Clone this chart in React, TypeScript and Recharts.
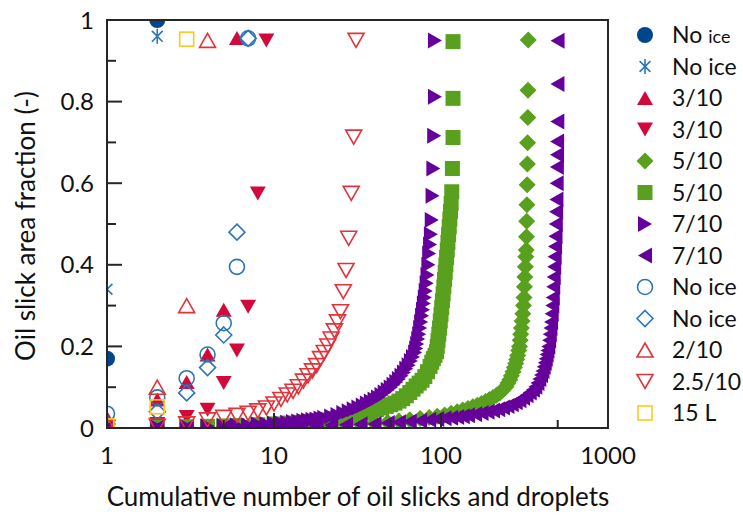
import React from "react";
import { ScatterChart, Scatter, XAxis, YAxis } from "recharts";

// Oil slick area fraction vs. cumulative number of slicks/droplets (log x)

type Pt = [number, number];

const xTicks = [1, 5, 10, 50, 100, 500, 1000];
const xTickLabels = [1, 10, 100, 1000];
const yTicks = [0, 0.1, 0.2, 0.3, 0.4, 0.5, 0.6, 0.7, 0.8, 0.9, 1];
const yTickLabels = ["0", "0.2", "0.4", "0.6", "0.8", "1"];

const noIceDots: Pt[] = [[1, 0.17], [2, 1.0]];
const noIceStars: Pt[] = [[1, 0.34], [2, 0.96]];
const ice3Up: Pt[] = [[1, 0.025], [2, 0.07], [3, 0.113], [4, 0.18], [5, 0.29], [6, 0.956]];
const ice3Down: Pt[] = [
  [1, 0.005], [2, 0.01], [3, 0.027], [4, 0.045], [5, 0.11], [6, 0.19], [7, 0.297], [8, 0.575], [9, 0.95],
];
const ice5Diamonds: Pt[] = [
  [1, 0.0005], [2, 0.001], [3, 0.0015], [5, 0.002], [7, 0.003], [10, 0.004], [14, 0.005], [18, 0.006],
  [22, 0.007], [27, 0.008], [33, 0.01], [40, 0.012], [48, 0.014], [56, 0.017], [65, 0.02], [75, 0.023],
  [85, 0.026], [95, 0.029], [105, 0.032], [115, 0.036], [125, 0.04], [135, 0.044], [145, 0.048],
  [155, 0.052], [165, 0.056], [175, 0.06], [185, 0.065], [195, 0.07], [205, 0.075], [215, 0.08],
  [225, 0.086], [235, 0.093], [245, 0.101], [252, 0.11], [258, 0.118], [264, 0.128], [270, 0.138],
  [275, 0.148], [280, 0.158], [284, 0.168], [288, 0.178], [292, 0.19], [295, 0.2], [298, 0.215],
  [300, 0.23], [303, 0.245], [306, 0.262], [309, 0.28], [312, 0.3], [314, 0.32], [316, 0.346],
  [318, 0.37], [320, 0.395], [322, 0.42], [324, 0.436], [325, 0.469], [326, 0.507], [327, 0.547],
  [328, 0.596], [329, 0.647], [330, 0.699], [331, 0.761], [332, 0.828], [333, 0.951],
];
const ice5Squares: Pt[] = [
  [1, 0.001], [2, 0.002], [3, 0.003], [4, 0.004], [5, 0.005], [6, 0.006], [8, 0.008], [10, 0.01],
  [12, 0.012], [14, 0.014], [16, 0.016], [18, 0.018], [20, 0.02], [23, 0.023], [26, 0.026], [29, 0.029],
  [32, 0.033], [35, 0.037], [38, 0.041], [41, 0.045], [44, 0.049], [47, 0.053], [50, 0.057], [53, 0.061],
  [56, 0.066], [59, 0.072], [62, 0.079], [65, 0.087], [68, 0.095], [71, 0.103], [74, 0.11], [77, 0.117],
  [80, 0.126], [83, 0.138], [86, 0.151], [88, 0.161], [90, 0.17], [92, 0.178], [94, 0.187], [95, 0.2],
  [96, 0.215], [97, 0.23], [98, 0.245], [99, 0.262], [100, 0.278], [101, 0.295], [102, 0.312],
  [103, 0.329], [104, 0.346], [105, 0.364], [106, 0.382], [107, 0.4], [108, 0.418], [109, 0.436],
  [110, 0.455], [111, 0.474], [112, 0.493], [113, 0.512], [114, 0.531], [115, 0.55], [116, 0.579],
  [117, 0.636], [118, 0.712], [118, 0.808], [118, 0.947],
];
const ice7Right: Pt[] = [
  [1, 0.001], [2, 0.002], [3, 0.003], [4, 0.004], [5, 0.005], [6, 0.006], [7, 0.007], [8, 0.009],
  [9, 0.01], [10, 0.011], [11, 0.012], [12, 0.013], [13, 0.015], [14, 0.016], [15, 0.018], [16, 0.019],
  [17, 0.02], [18, 0.021], [19, 0.023], [20, 0.025], [22, 0.028], [24, 0.032], [26, 0.037], [28, 0.041],
  [30, 0.046], [32, 0.05], [34, 0.055], [36, 0.06], [38, 0.065], [40, 0.07], [42, 0.075], [44, 0.081],
  [46, 0.087], [48, 0.093], [50, 0.099], [52, 0.106], [54, 0.113], [56, 0.12], [58, 0.128], [60, 0.136],
  [62, 0.145], [64, 0.154], [66, 0.164], [68, 0.174], [70, 0.185], [71, 0.195], [72, 0.206], [73, 0.218],
  [74, 0.23], [75, 0.245], [76, 0.26], [77, 0.275], [78, 0.29], [79, 0.305], [80, 0.32], [81, 0.336],
  [82, 0.355], [83, 0.375], [84, 0.4], [85, 0.428], [86, 0.45], [87, 0.475], [88, 0.51], [89, 0.569],
  [90, 0.636], [91, 0.716], [92, 0.812], [92, 0.95],
];
const ice7Left: Pt[] = [
  [1, 0.0005], [2, 0.001], [3, 0.0015], [5, 0.002], [7, 0.003], [10, 0.004], [14, 0.005], [18, 0.006],
  [22, 0.007], [27, 0.008], [33, 0.009], [40, 0.01], [48, 0.012], [56, 0.014], [65, 0.016], [75, 0.018],
  [85, 0.02], [95, 0.022], [105, 0.024], [115, 0.025], [125, 0.027], [135, 0.029], [145, 0.031],
  [160, 0.034], [175, 0.037], [190, 0.04], [205, 0.043], [220, 0.046], [235, 0.05], [250, 0.054],
  [265, 0.058], [280, 0.063], [295, 0.068], [310, 0.074], [325, 0.08], [340, 0.087], [355, 0.094],
  [367, 0.101], [378, 0.11], [388, 0.12], [397, 0.13], [405, 0.14], [412, 0.15], [418, 0.16], [424, 0.17],
  [429, 0.18], [434, 0.19], [439, 0.2], [444, 0.215], [448, 0.23], [452, 0.245], [456, 0.26], [460, 0.28],
  [464, 0.3], [467, 0.32], [470, 0.346], [473, 0.37], [476, 0.395], [479, 0.42], [482, 0.445],
  [485, 0.47], [487, 0.5], [489, 0.53], [491, 0.56], [493, 0.6], [494, 0.64], [495, 0.67], [496, 0.702],
  [497, 0.751], [498, 0.843], [499, 0.949],
];
const noIceCircles: Pt[] = [[1, 0.035], [2, 0.075], [3, 0.122], [4, 0.18], [5, 0.257], [6, 0.395], [7, 0.955]];
const noIceDiamonds: Pt[] = [[1, 0.01], [2, 0.04], [3, 0.086], [4, 0.148], [5, 0.228], [6, 0.48], [7, 0.955]];
const ice2Up: Pt[] = [[1, 0.01], [2, 0.1], [3, 0.3], [4, 0.95]];
const ice25Down: Pt[] = [
  [1, 0.002], [2, 0.005], [3, 0.01], [4, 0.02], [5, 0.026], [6, 0.031], [7, 0.036], [8, 0.042],
  [9, 0.049], [10, 0.059], [11, 0.07], [12, 0.081], [13, 0.09], [14, 0.101], [15, 0.115], [16, 0.128],
  [17, 0.14], [18, 0.153], [19, 0.17], [20, 0.185], [21, 0.201], [22, 0.218], [23, 0.238], [24, 0.26],
  [25, 0.285], [26, 0.334], [27, 0.386], [28, 0.465], [29, 0.575], [30, 0.713], [31, 0.95],
];
const litre15: Pt[] = [[1, 0.005], [2, 0.052], [3, 0.953]];

type Kind = "circle" | "star" | "triUp" | "triDown" | "triLeft" | "triRight" | "diamond" | "square";

interface SeriesDef {
  name: string;
  small?: string;
  data: Pt[];
  kind: Kind;
  color: string;
  filled: boolean;
}

const NAVY = "#00468c";
const BLUE = "#2e75b6";
const CRIMSON = "#d20a3c";
const GREEN = "#58a01e";
const PURPLE = "#66009a";
const RED = "#e2323a";
const GOLD = "#ffc81e";

const series: SeriesDef[] = [
  { name: "No ", small: "ice", data: noIceDots, kind: "circle", color: NAVY, filled: true },
  { name: "No ice", data: noIceStars, kind: "star", color: BLUE, filled: false },
  { name: "3/10", data: ice3Up, kind: "triUp", color: CRIMSON, filled: true },
  { name: "3/10", data: ice3Down, kind: "triDown", color: CRIMSON, filled: true },
  { name: "5/10", data: ice5Diamonds, kind: "diamond", color: GREEN, filled: true },
  { name: "5/10", data: ice5Squares, kind: "square", color: GREEN, filled: true },
  { name: "7/10", data: ice7Right, kind: "triRight", color: PURPLE, filled: true },
  { name: "7/10", data: ice7Left, kind: "triLeft", color: PURPLE, filled: true },
  { name: "No ice", data: noIceCircles, kind: "circle", color: BLUE, filled: false },
  { name: "No ice", data: noIceDiamonds, kind: "diamond", color: BLUE, filled: false },
  { name: "2/10", data: ice2Up, kind: "triUp", color: RED, filled: false },
  { name: "2.5/10", data: ice25Down, kind: "triDown", color: RED, filled: false },
  { name: "15 L", data: litre15, kind: "square", color: GOLD, filled: false },
];

const FONT = "Lato, 'Open Sans', sans-serif";
const INK = "#111";
const FRAME = "#262626";

function Marker({ cx, cy, kind, color, filled }: { cx: number; cy: number; kind: Kind; color: string; filled: boolean }) {
  if (cx == null || cy == null || Number.isNaN(cx) || Number.isNaN(cy)) return null;
  const fill = filled ? color : "none";
  const sw = filled ? 0 : 1.6;
  const st = { fill, stroke: color, strokeWidth: sw };
  switch (kind) {
    case "circle":
      return <circle cx={cx} cy={cy} r={filled ? 8 : 7.5} {...st} />;
    case "square":
      return filled ? (
        <rect x={cx - 7.5} y={cy - 7.5} width={15} height={15} {...st} />
      ) : (
        <rect x={cx - 7} y={cy - 7} width={14} height={14} {...st} />
      );
    case "diamond": {
      const h = filled ? 8.5 : 8;
      return <path d={`M${cx},${cy - h}L${cx + h},${cy}L${cx},${cy + h}L${cx - h},${cy}Z`} {...st} />;
    }
    case "triUp":
      return <path d={`M${cx},${cy - 7}L${cx + 8},${cy + 7}L${cx - 8},${cy + 7}Z`} {...st} />;
    case "triDown":
      return <path d={`M${cx},${cy + 7}L${cx + 8},${cy - 7}L${cx - 8},${cy - 7}Z`} {...st} />;
    case "triRight":
      return <path d={`M${cx + 7},${cy}L${cx - 7},${cy - 8}L${cx - 7},${cy + 8}Z`} {...st} />;
    case "triLeft":
      return <path d={`M${cx - 7},${cy}L${cx + 7},${cy - 8}L${cx + 7},${cy + 8}Z`} {...st} />;
    case "star": {
      const r = 7.5;
      const d = r * 0.72;
      return (
        <path
          d={`M${cx},${cy - r}L${cx},${cy + r}M${cx - d},${cy - d}L${cx + d},${cy + d}M${cx - d},${cy + d}L${cx + d},${cy - d}`}
          stroke={color}
          strokeWidth={1.6}
          fill="none"
        />
      );
    }
  }
  return null;
}

function XTick(props: any) {
  const { x, y, payload } = props;
  const v = payload.value as number;
  const major = xTickLabels.includes(v);
  return (
    <g>
      <line x1={x} x2={x} y1={y} y2={y - (major ? 15 : 8)} stroke={FRAME} strokeWidth={2} />
      {major && (
        <text x={x} y={y + 36} textAnchor="middle" fontSize={24} fontFamily={FONT} fill={INK}>
          {v}
        </text>
      )}
    </g>
  );
}

function YTick(props: any) {
  const { x, y, payload } = props;
  const v = payload.value as number;
  const idx = Math.round(v * 10);
  const major = idx % 2 === 0;
  return (
    <g>
      <line x1={x} x2={x + (major ? 15 : 9)} y1={y} y2={y} stroke={FRAME} strokeWidth={2} />
      {major && (
        <text x={x - 13} y={y} dy="0.36em" textAnchor="end" fontSize={24} fontFamily={FONT} fill={INK}>
          {yTickLabels[idx / 2]}
        </text>
      )}
    </g>
  );
}

export default function App() {
  return (
    <div style={{ position: "absolute", left: 0, top: 0, width: 743, height: 515, background: "#fff" }}>
      <ScatterChart width={743} height={515} margin={{ top: 20, right: 135, bottom: 0, left: 0 }}>
        <XAxis
          dataKey="x"
          type="number"
          scale="log"
          domain={[1, 1000]}
          ticks={xTicks}
          allowDataOverflow
          axisLine={false}
          tickLine={false}
          tickSize={0}
          tickMargin={0}
          height={87}
          interval={0}
          tick={<XTick />}
        />
        <YAxis
          dataKey="y"
          type="number"
          domain={[0, 1]}
          ticks={yTicks}
          allowDataOverflow
          axisLine={false}
          tickLine={false}
          tickSize={0}
          tickMargin={0}
          width={107}
          interval={0}
          tick={<YTick />}
        />
        {series.map((s, i) => (
          <Scatter
            key={i}
            name={s.name}
            data={s.data.map(([x, y]) => ({ x, y }))}
            isAnimationActive={false}
            shape={(p: any) => <Marker cx={p.cx} cy={p.cy} kind={s.kind} color={s.color} filled={s.filled} />}
          />
        ))}
      </ScatterChart>
      <div
        style={{
          position: "absolute",
          left: 106,
          top: 19,
          width: 503,
          height: 410,
          border: `2px solid ${FRAME}`,
          boxSizing: "border-box",
          pointerEvents: "none",
        }}
      />
      <svg width={743} height={515} style={{ position: "absolute", left: 0, top: 0, pointerEvents: "none" }}>
        <text x={358} y={506} textAnchor="middle" fontSize={26} fontFamily={FONT} fill={INK}>
          Cumulative number of oil slicks and droplets
        </text>
        <text
          transform="translate(35,226) rotate(-90)"
          textAnchor="middle"
          fontSize={26}
          fontFamily={FONT}
          fill={INK}
        >
          Oil slick area fraction (-)
        </text>
        {series.map((s, i) => {
          const cy = 35 + i * 31.5;
          return (
            <g key={i}>
              <Marker cx={645} cy={cy} kind={s.kind} color={s.color} filled={s.filled} />
              <text x={672} y={cy} dy="0.36em" fontSize={23} fontFamily={FONT} fill={INK}>
                {s.name}
                {s.small && <tspan fontSize={18}>{s.small}</tspan>}
              </text>
            </g>
          );
        })}
      </svg>
    </div>
  );
}
